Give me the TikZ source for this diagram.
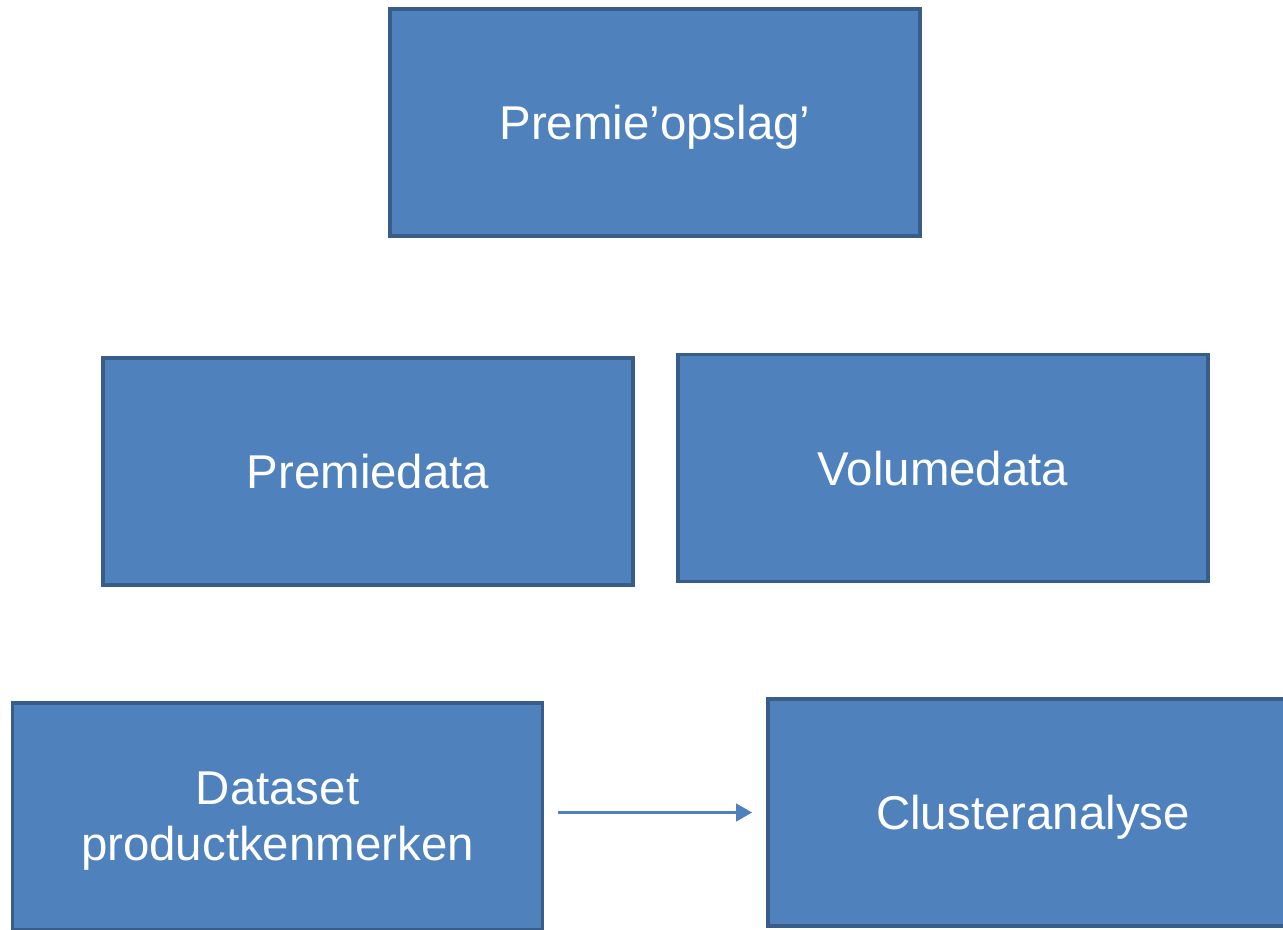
\documentclass[tikz,border=0pt]{standalone}
\usepackage{fontspec}
\setmainfont{Liberation Sans}
\usetikzlibrary{arrows.meta}
\definecolor{boxfill}{HTML}{4F81BD}
\definecolor{boxline}{HTML}{385D8A}
\tikzset{
  stapbox/.style={draw=boxline, fill=boxfill, line width=2.1pt,
    minimum width=10.6cm, minimum height=4.54cm, text=white, text depth=0pt,
    font=\fontsize{27}{32}\selectfont, align=center, inner sep=0pt},
  pijl/.style={draw=boxfill, line width=2.1pt,
    -{Triangle[length=0.32cm,width=0.34cm]}, shorten <=0.28cm, shorten >=0.28cm}
}
\begin{document}
\begin{tikzpicture}[x=0.02cm, y=-0.02cm]
        \useasboundingbox (0,0) rectangle (1283,929);
        \node[stapbox] (opslag) at (655,122.5) {Premie’opslag’};
        \node[stapbox] (premie) at (368,471.5) {Premiedata};
        \node[stapbox] (volume) at (943,468) {Volumedata};
        \node[stapbox] (dataset) at (277.5,816.5) {Dataset\\productkenmerken};
        \node[stapbox] (cluster) at (1033,812.5) {Clusteranalyse};
        \draw[pijl] (dataset.east |- cluster) -- (cluster);
    \end{tikzpicture}
\end{document}
